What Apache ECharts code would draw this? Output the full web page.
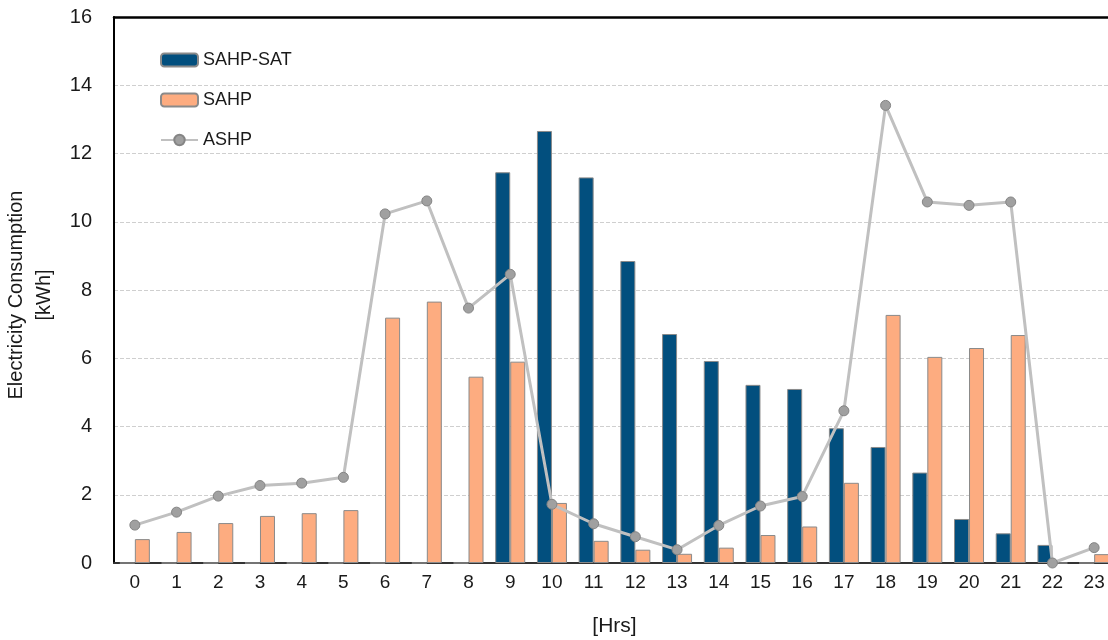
<!DOCTYPE html>
<html>
<head>
<meta charset="utf-8">
<script src="https://cdn.jsdelivr.net/npm/echarts@6/dist/echarts.min.js"></script>
<style>html,body{margin:0;padding:0;background:#fff}#c{width:1108px;height:640px}</style>
</head>
<body>
<div id="c"></div>
<script>
const hours = ['0','1','2','3','4','5','6','7','8','9','10','11','12','13','14','15','16','17','18','19','20','21','22','23'];
const sahpSat = [0,0,0,0,0,0,0,0,0,11.45,12.66,11.3,8.85,6.71,5.92,5.22,5.1,3.95,3.4,2.65,1.29,0.87,0.53,0];
const sahp = [0.7,0.91,1.17,1.38,1.46,1.55,7.19,7.66,5.46,5.9,1.76,0.65,0.39,0.27,0.45,0.82,1.07,2.35,7.27,6.04,6.3,6.68,0,0.26];
const ashp = [1.11,1.49,1.96,2.27,2.34,2.51,10.23,10.61,7.47,8.46,1.72,1.15,0.77,0.39,1.1,1.67,1.95,4.46,13.41,10.58,10.48,10.58,0,0.45];
const yTicks = { min: 0, max: 16, interval: 2 };

const font = 'Liberation Sans, Arial, sans-serif';
const txt = '#1a1a1a';
const chart = echarts.init(document.getElementById('c'), null, { renderer: 'canvas' });
chart.setOption({
  animation: false,
  backgroundColor: '#ffffff',
  textStyle: { fontFamily: font },
  grid: { left: 114, right: -7, top: 17, bottom: 77, outerBoundsMode: 'none', containLabel: false, show: false },
  legend: {
    orient: 'vertical', left: 155, top: 46, itemGap: 22, itemWidth: 37, itemHeight: 13,
    textStyle: { fontSize: 18, color: txt, fontFamily: font },
    data: ['SAHP-SAT', 'SAHP', 'ASHP']
  },
  xAxis: [{
    type: 'category', data: hours,
    name: '[Hrs]', nameLocation: 'middle', nameGap: 53,
    nameTextStyle: { fontSize: 21, color: txt },
    axisLine: { lineStyle: { color: '#333', width: 2 } },
    axisTick: { show: false },
    axisLabel: { fontSize: 19, color: txt, margin: 10 }
  }, {
    type: 'category', data: hours, position: 'top',
    axisLine: { show: true, lineStyle: { color: '#000', width: 2.5 } },
    axisTick: { show: false }, axisLabel: { show: false }, splitLine: { show: false }
  }],
  yAxis: {
    type: 'value', min: yTicks.min, max: yTicks.max, interval: yTicks.interval,
    name: 'Electricity Consumption\n[kWh]', nameLocation: 'middle', nameGap: 49, nameRotate: 90,
    nameTextStyle: { fontSize: 20, color: txt, lineHeight: 28, padding: [0, 10, 0, 0] },
    axisLine: { show: true, lineStyle: { color: '#000', width: 2 } },
    axisTick: { show: false },
    axisLabel: { fontSize: 20, color: txt, margin: 22 },
    splitLine: { lineStyle: { color: '#cfcfcf', type: 'dashed', width: 1 } }
  },
  series: [
    { name: 'SAHP-SAT', type: 'bar', data: sahpSat, barWidth: 15, barGap: '0%',
      itemStyle: { color: '#024f7e', borderColor: '#8a8a8a', borderWidth: 1 } },
    { name: 'SAHP', type: 'bar', data: sahp, barWidth: 15, barGap: '0%',
      itemStyle: { color: '#fdac80', borderColor: '#8a8a8a', borderWidth: 1 } },
    { name: 'ASHP', type: 'line', data: ashp, symbol: 'circle', symbolSize: 10,
      lineStyle: { color: '#c0c0c0', width: 3 },
      itemStyle: { color: '#a0a0a0', borderColor: '#858585', borderWidth: 1 } }
  ]
});
</script>
</body>
</html>
